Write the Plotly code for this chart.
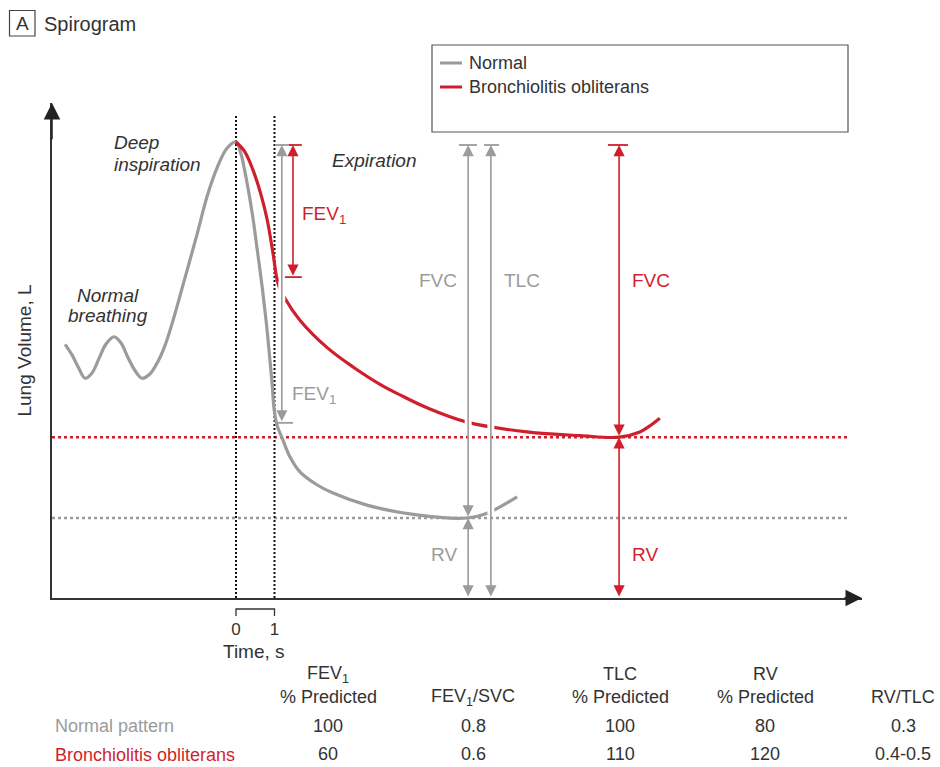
import plotly.graph_objects as go

# ---------------- data (time in s, volume in L) ----------------
normal_t = [-4.44, -4.26, -4.10, -3.92, -3.74, -3.56, -3.38, -3.17, -2.99, -2.81, -2.62, -2.44,
            -2.23, -2.03, -1.84, -1.64, -1.32, -1.01, -0.75, -0.49, -0.23, 0.00,
            0.13, 0.23, 0.42, 0.55, 0.68, 0.78, 0.86, 0.94, 0.99, 1.06, 1.22, 1.40, 1.66,
            2.10, 2.52, 3.40, 4.70, 6.00, 6.55, 7.30]
normal_v = [3.36, 3.22, 3.06, 2.91, 2.98, 3.17, 3.36, 3.46, 3.38, 3.19, 3.01, 2.91,
            2.97, 3.13, 3.35, 3.67, 4.25, 4.82, 5.32, 5.70, 5.96, 6.04,
            5.88, 5.65, 5.10, 4.62, 4.12, 3.68, 3.27, 2.82, 2.50, 2.30, 2.09, 1.87, 1.67,
            1.50, 1.39, 1.23, 1.10, 1.06, 1.13, 1.34]

bo_t = [0.00, 0.23, 0.44, 0.65, 0.81, 0.96, 1.09, 1.27, 1.66, 2.36, 3.04, 3.74, 4.26, 4.96,
        6.00, 7.56, 8.94, 9.95, 10.49, 10.75, 11.01]
bo_v = [6.04, 5.91, 5.67, 5.34, 5.01, 4.57, 4.17, 3.97, 3.68, 3.32, 3.06, 2.83, 2.69, 2.52,
        2.33, 2.20, 2.15, 2.13, 2.20, 2.28, 2.38]

tlc_level = 6.0
rv_normal = 1.06
rv_bo = 2.13

# measurement arrows
arrow_t = [1.19, 1.48, 6.03, 6.62, 9.95, 6.03, 9.95]
arrow_top = [6.0, 6.0, 6.0, 6.0, 6.0, 1.06, 2.13]
arrow_bottom = [2.32, 4.25, 1.06, 0.0, 2.13, 0.0, 0.0]
arrow_series = ["n", "b", "n", "n", "b", "n", "b"]

# caps (t start, t end, level)
cap_t0 = [1.01, 1.38, 1.04, 1.27, 5.79, 6.44, 9.66]
cap_t1 = [1.45, 1.71, 1.48, 1.71, 6.26, 6.83, 10.18]
cap_v = [6.0, 6.0, 2.32, 4.25, 6.0, 6.0, 6.0]
cap_series = ["n", "b", "n", "b", "n", "n", "b"]

# label texts of the measurements
meas_labels = ["FEV<sub>1</sub>", "FEV<sub>1</sub>", "FVC", "TLC", "FVC", "RV", "RV"]
meas_label_t = [1.40, 1.66, 5.79, 6.91, 10.23, 5.79, 10.23]
meas_label_v = [2.69, 5.07, 4.20, 4.20, 4.20, 0.57, 0.57]
meas_label_anchor = ["left", "left", "right", "left", "left", "right", "left"]
meas_label_series = ["n", "b", "n", "n", "b", "n", "b"]

# crossings where arrow lines break the curves (t, v0, v1)
gap_t = [1.19, 6.03, 6.62, 6.62]
gap_v0 = [3.93, 2.24, 2.20, 1.11]
gap_v1 = [4.20, 2.45, 2.40, 1.28]

time_ticks = [0, 1]

# table
table_head1 = ["FEV<sub>1</sub>", "", "TLC", "RV", ""]
table_head2 = ["% Predicted", "FEV<sub>1</sub>/SVC", "% Predicted", "% Predicted", "RV/TLC"]
row_labels = ["Normal pattern", "Bronchiolitis obliterans"]
normal_row = ["100", "0.8", "100", "80", "0.3"]
bo_row = ["60", "0.6", "110", "120", "0.4-0.5"]

# ---------------- style / layout ----------------
W, H = 940, 767
GRAY = "#9b9b9b"
RED = "#d01f2c"
INK = "#333333"
FONT = "Liberation Sans"
FS = 19
col = {"n": GRAY, "b": RED}

X0_PX, PX_PER_S = 236.0, 38.5
Y0_PX, PX_PER_L = 598.0, 75.5
XL_PX, XR_PX, YT_PX = 52.0, 862.0, 103.0
x_rng = [(XL_PX - X0_PX) / PX_PER_S, (XR_PX - X0_PX) / PX_PER_S]
y_rng = [0.0, (Y0_PX - YT_PX) / PX_PER_L]
x_dotted_end = (848 - X0_PX) / PX_PER_S
v_dotted_top = (Y0_PX - 115) / PX_PER_L


def px(x):
    return x / W


def py(y):
    return 1 - y / H


def paper_text(fig, x, y, text, size=FS - 1, color=INK, xanchor="center"):
    fig.add_annotation(x=px(x), y=py(y), xref="paper", yref="paper", text=text, showarrow=False,
                       xanchor=xanchor, yanchor="middle",
                       font=dict(family=FONT, size=size, color=color))


fig = go.Figure()

# horizontal dotted RV levels
for lvl, c in [(rv_bo, RED), (rv_normal, GRAY)]:
    fig.add_trace(go.Scatter(x=[x_rng[0], x_dotted_end], y=[lvl, lvl], mode="lines",
                             line=dict(color=c, width=2.5, dash="3px,3px"), hoverinfo="skip"))
# vertical dotted time markers
for tv in time_ticks:
    fig.add_trace(go.Scatter(x=[tv, tv], y=[0, v_dotted_top], mode="lines",
                             line=dict(color="#111", width=2, dash="2px,2px"), hoverinfo="skip"))

# curves
fig.add_trace(go.Scatter(x=normal_t, y=normal_v, mode="lines", name="Normal",
                         line=dict(color=GRAY, width=3.2, shape="spline", smoothing=1.0)))
fig.add_trace(go.Scatter(x=bo_t, y=bo_v, mode="lines", name="Bronchiolitis obliterans",
                         line=dict(color=RED, width=3.2, shape="spline", smoothing=1.0)))

# white breaks
for t, a, b in zip(gap_t, gap_v0, gap_v1):
    fig.add_trace(go.Scatter(x=[t, t], y=[a, b], mode="lines",
                             line=dict(color="white", width=7), hoverinfo="skip"))

# caps
for t0, t1, v, s in zip(cap_t0, cap_t1, cap_v, cap_series):
    fig.add_trace(go.Scatter(x=[t0, t1], y=[v, v], mode="lines",
                             line=dict(color=col[s], width=1.8), hoverinfo="skip"))

# measurement arrows
for t, top, bot, s in zip(arrow_t, arrow_top, arrow_bottom, arrow_series):
    fig.add_annotation(x=t, y=top, ax=t, ay=bot, xref="x", yref="y", axref="x", ayref="y",
                       text="", showarrow=True, arrowhead=2, startarrowhead=2,
                       arrowside="end+start", arrowsize=1.4, startarrowsize=1.4,
                       arrowwidth=1.6, arrowcolor=col[s])

for txt, t, v, anc, s in zip(meas_labels, meas_label_t, meas_label_v, meas_label_anchor,
                             meas_label_series):
    fig.add_annotation(x=t, y=v, xref="x", yref="y", text=txt, showarrow=False,
                       xanchor=anc, yanchor="middle",
                       font=dict(family=FONT, size=FS, color=col[s]))

# axis arrowheads
fig.add_annotation(x=x_rng[0], y=y_rng[1], ax=x_rng[0], ay=y_rng[1] - 0.5, xref="x", yref="y",
                   axref="x", ayref="y", text="", showarrow=True, arrowhead=2, arrowsize=2.2,
                   arrowwidth=1.5, arrowcolor="#222")
fig.add_annotation(x=x_rng[1], y=0, ax=x_rng[1] - 0.5, ay=0, xref="x", yref="y",
                   axref="x", ayref="y", text="", showarrow=True, arrowhead=2, arrowsize=2.2,
                   arrowwidth=1.5, arrowcolor="#222")

# italic phase labels
for txt, t, v, anc in [("Deep", -3.22, 6.03, "left"), ("inspiration", -3.22, 5.74, "left"),
                       ("Normal", -3.32, 4.01, "center"), ("breathing", -3.32, 3.74, "center"),
                       ("Expiration", 2.44, 5.80, "left")]:
    fig.add_annotation(x=t, y=v, xref="x", yref="y", text="<i>%s</i>" % txt, showarrow=False,
                       xanchor=anc, yanchor="middle", font=dict(family=FONT, size=FS, color=INK))

# time bracket
fig.add_shape(type="path", xref="x", yref="paper",
              path="M %f,%f L %f,%f L %f,%f L %f,%f" % (time_ticks[0], py(616), time_ticks[0], py(609),
                                                      time_ticks[1], py(609), time_ticks[1], py(616)),
              line=dict(color="#333", width=1.3))
paper_text(fig, 254, 651, "Time, s", size=FS)

# title
fig.add_shape(type="rect", xref="paper", yref="paper", x0=px(9.5), x1=px(35), y0=py(36), y1=py(10.5),
              line=dict(color="#444", width=1.2))
paper_text(fig, 22.3, 23.5, "A", size=FS)
paper_text(fig, 42, 23.5, "Spirogram", size=FS + 1, xanchor="left")

# legend box
fig.add_shape(type="rect", xref="paper", yref="paper", x0=px(432), x1=px(848), y0=py(132), y1=py(45),
              line=dict(color="#555", width=1.2))
for i, (name, c) in enumerate([("Normal", GRAY), ("Bronchiolitis obliterans", RED)]):
    yy = 63 + 24 * i
    fig.add_shape(type="line", xref="paper", yref="paper", x0=px(440), x1=px(462), y0=py(yy), y1=py(yy),
                  line=dict(color=c, width=3))
    paper_text(fig, 467, yy, name, size=FS - 1, xanchor="left")

# table
col_x = [328, 473, 620, 765, 903]
for cx, h1, h2, a, b in zip(col_x, table_head1, table_head2, normal_row, bo_row):
    if h1:
        paper_text(fig, cx, 674, h1)
    paper_text(fig, cx, 697, h2)
    paper_text(fig, cx, 726, a)
    paper_text(fig, cx, 754, b)
for lab, yy, c in zip(row_labels, [726, 755], [GRAY, RED]):
    paper_text(fig, 53, yy, lab, color=c, xanchor="left")

fig.update_layout(
    width=W, height=H, margin=dict(l=0, r=0, t=0, b=0), autosize=False,
    paper_bgcolor="white", plot_bgcolor="white", showlegend=False,
    font=dict(family=FONT, size=FS, color=INK),
    xaxis=dict(domain=[px(XL_PX), px(XR_PX)], range=x_rng, showgrid=False, zeroline=False,
               showline=True, linecolor="#333", linewidth=1.5,
               tickvals=time_ticks, ticktext=[str(v) for v in time_ticks], ticks="outside",
               ticklen=15, tickcolor="rgba(0,0,0,0)", tickfont=dict(size=FS - 2, color=INK),
               fixedrange=True, automargin=False),
    yaxis=dict(domain=[py(Y0_PX), py(YT_PX)], range=y_rng, showgrid=False, zeroline=False,
               showline=True, linecolor="#333", linewidth=1.5, showticklabels=False, ticks="",
               title=dict(text="Lung Volume, L", standoff=14, font=dict(size=FS, color=INK)),
               fixedrange=True, automargin=False),
)

fig.write_html("out.html")
